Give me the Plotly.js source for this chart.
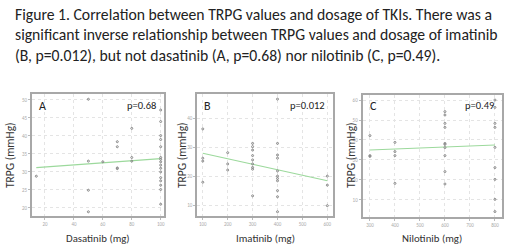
<!DOCTYPE html>
<html>
<head>
<meta charset="utf-8">
<script src="https://cdn.plot.ly/plotly-3.0.1.min.js"></script>
<style>html,body{margin:0;padding:0;background:#fff;}#chart{width:520px;height:251px;}</style>
</head>
<body>
<div id="chart"></div>
<script>
// Panel A: dasatinib
const dasatinibDose = [14, 50, 50, 50, 50, 60, 70, 70, 70, 70, 80, 80, 80,
  100, 100, 100, 100, 100, 100, 100, 100, 100, 100, 100, 100, 100, 100, 100, 100];
const dasatinibTRPG = [28.8, 50.2, 33.0, 24.9, 18.9, 32.8, 38.4, 37.0, 31.1, 30.9, 42.1, 34.0, 33.0,
  47.2, 44.0, 40.1, 39.0, 37.0, 34.0, 33.5, 32.8, 31.9, 31.0, 30.0, 28.4, 27.5, 26.3, 25.1, 21.0];
const dasatinibFitX = [14, 100];
const dasatinibFitY = [31.2, 33.7];

// Panel B: imatinib
const imatinibDose = [100, 100, 100, 100, 200, 200, 200,
  300, 300, 300, 300, 300, 300, 300, 300, 300,
  400, 400, 400, 400, 400, 400, 400, 400, 400, 400, 400,
  600, 600, 600];
const imatinibTRPG = [36.3, 26.2, 25.2, 17.9, 28.1, 24.2, 22.1,
  31.3, 30.2, 29.0, 27.1, 25.6, 24.2, 23.0, 22.4, 13.2,
  46.6, 31.3, 27.3, 26.2, 21.8, 20.0, 19.2, 18.4, 15.0, 12.9, 7.7,
  20.0, 16.9, 9.8];
const imatinibFitX = [100, 600];
const imatinibFitY = [27.9, 18.4];

// Panel C: nilotinib
const nilotinibDose = [300, 300, 300, 400, 400, 400, 400,
  600, 600, 600, 600, 600, 600, 600, 600, 600, 600,
  800, 800, 800, 800, 800, 800, 800, 800, 800];
const nilotinibTRPG = [42.2, 32.2, 31.8, 38.8, 34.2, 32.2, 18.3,
  54.2, 52.5, 48.3, 46.3, 38.3, 37.8, 36.2, 32.2, 24.2, 18.0,
  60.0, 56.3, 48.3, 46.3, 36.3, 26.2, 20.3, 10.3, 4.2];
const nilotinibFitX = [300, 800];
const nilotinibFitY = [35.0, 37.5];

// Ticks
const ticksAx = [20, 40, 60, 80, 100];
const ticksAy = [20, 25, 30, 35, 40, 45, 50];
const ticksBx = [100, 200, 300, 400, 500, 600];
const ticksBy = [10, 20, 30, 40];
const ticksCx = [300, 400, 500, 600, 700, 800];
const ticksCy = [10, 20, 30, 40, 50, 60];

const panelLetters = ['A', 'B', 'C'];
const pValues = ['p=0.68', 'p=0.012', 'p=0.49'];
const xTitles = ['Dasatinib (mg)', 'Imatinib (mg)', 'Nilotinib (mg)'];
const yTitle = 'TRPG (mmHg)';
const caption = 'Figure 1. Correlation between TRPG values and dosage of TKIs. There was a<br>significant inverse relationship between TRPG values and dosage of imatinib<br>(B, p=0.012), but not dasatinib (A, p=0.68) nor nilotinib (C, p=0.49).';

const FONT = 'Carlito, Lato, "Open Sans", sans-serif';
const ptStyle = {symbol: 'circle-open', size: 2, color: '#888', line: {width: 1, color: '#888'}};
const fitStyle = {color: '#9cd99c', width: 1.2};

function sc(x, y, xa, ya) {
  return {type: 'scatter', mode: 'markers', x: x, y: y, xaxis: xa, yaxis: ya,
    marker: ptStyle, hoverinfo: 'skip', showlegend: false};
}
function fit(x, y, xa, ya) {
  return {type: 'scatter', mode: 'lines', x: x, y: y, xaxis: xa, yaxis: ya,
    line: fitStyle, hoverinfo: 'skip', showlegend: false};
}

const data = [
  fit(dasatinibFitX, dasatinibFitY, 'x', 'y'),
  sc(dasatinibDose, dasatinibTRPG, 'x', 'y'),
  fit(imatinibFitX, imatinibFitY, 'x2', 'y2'),
  sc(imatinibDose, imatinibTRPG, 'x2', 'y2'),
  fit(nilotinibFitX, nilotinibFitY, 'x3', 'y3'),
  sc(nilotinibDose, nilotinibTRPG, 'x3', 'y3')
];

function ax(domain, range, ticks, anchor) {
  return {domain: domain, range: range, tickvals: ticks, ticktext: ticks.map(String),
    anchor: anchor, showline: true, mirror: true, linecolor: '#a8a8a8', linewidth: 2,
    showgrid: true, gridcolor: '#e4e4e4', gridwidth: 1, griddash: 'dot', zeroline: false,
    ticks: 'outside', ticklen: 2, tickcolor: '#bbb', tickwidth: 1,
    tickfont: {family: FONT, size: 5, color: '#aaa'}, automargin: false, fixedrange: true};
}

const yDom = [0.139, 0.626];
const layout = {
  width: 520, height: 251,
  margin: {l: 0, r: 0, t: 0, b: 0},
  paper_bgcolor: '#fff', plot_bgcolor: '#fff',
  showlegend: false,
  font: {family: FONT, color: '#333'},
  xaxis: ax([0.0615, 0.3154], [11, 102.3], ticksAx, 'y'),
  yaxis: ax(yDom, [17.7, 51.7], ticksAy, 'x'),
  xaxis2: ax([0.3794, 0.641], [78, 624], ticksBx, 'y2'),
  yaxis2: ax(yDom, [6.2, 48.4], ticksBy, 'x2'),
  xaxis3: ax([0.6975, 0.9648], [271, 827], ticksCx, 'y3'),
  yaxis3: ax([0.1355, 0.6215], [1.5, 62.5], ticksCy, 'x3'),
  annotations: []
};

layout.annotations.push({text: caption, xref: 'paper', yref: 'paper', x: 13/520, y: 1 - 3/251,
  xanchor: 'left', yanchor: 'top', align: 'left', showarrow: false,
  font: {family: FONT, size: 15.7, color: '#222'}});

const panelX = [[32, 164], [197.3, 333.3], [362.7, 501.7]];
const yTitleX = [10, 182, 351];
panelX.forEach((p, i) => {
  layout.annotations.push({text: panelLetters[i], xref: 'paper', yref: 'paper',
    x: (p[0] + 5) / 520, y: 1 - 97/251, xanchor: 'left', yanchor: 'top', showarrow: false,
    font: {family: FONT, size: 12, color: '#222'}});
  layout.annotations.push({text: pValues[i], xref: 'paper', yref: 'paper',
    x: (p[1] - 6) / 520, y: 1 - 97/251, xanchor: 'right', yanchor: 'top', showarrow: false,
    font: {family: FONT, size: 10.5, color: '#222'}});
  layout.annotations.push({text: xTitles[i], xref: 'paper', yref: 'paper',
    x: (p[0] + p[1]) / 2 / 520, y: 1 - 238/251, xanchor: 'center', yanchor: 'middle', showarrow: false,
    font: {family: FONT, size: 10.8, color: '#333'}});
  layout.annotations.push({text: yTitle, xref: 'paper', yref: 'paper', textangle: -90,
    x: yTitleX[i] / 520, y: 1 - 155/251, xanchor: 'center', yanchor: 'middle', showarrow: false,
    font: {family: FONT, size: 11.5, color: '#333'}});
});

Plotly.newPlot('chart', data, layout, {staticPlot: true, displayModeBar: false});
</script>
</body>
</html>
